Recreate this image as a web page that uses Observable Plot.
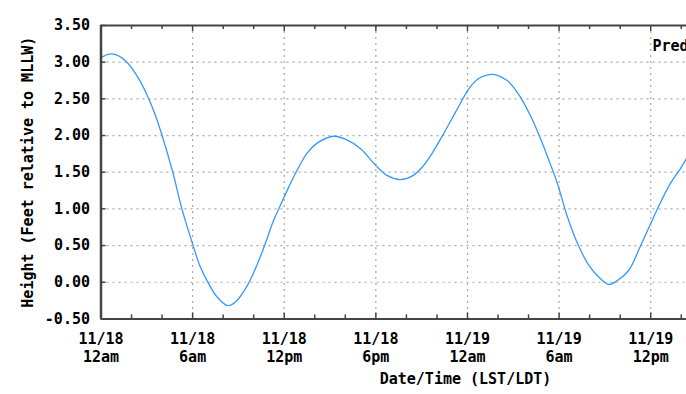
<!DOCTYPE html>
<html>
<head>
<meta charset="utf-8">
<script src="https://cdn.jsdelivr.net/npm/d3@7"></script>
<script src="https://cdn.jsdelivr.net/npm/@observablehq/plot@0.6"></script>
<style>
  html, body { margin: 0; padding: 0; background: #fff; }
  #chart svg { display: block; }
</style>
</head>
<body>
<div id="chart"></div>
<script>
// Hours since 11/18 12am
const hours = [0, 0.5, 1.0, 1.7, 2.4, 3.0, 3.5, 4.0, 4.7, 5.3, 6.0, 6.5, 7.05, 7.6, 8.3, 8.8, 9.6, 10.55, 11.3, 11.75, 12.3, 12.85, 13.5, 14.25, 15.25, 16.0, 17.0, 18.0, 18.7, 19.6, 20.4, 21.0, 21.6, 22.45, 23.3, 24.1, 24.75, 25.4, 25.8, 26.6, 27.35, 28.1, 28.8, 29.3, 29.9, 30.5, 31.2, 31.95, 32.7, 33.25, 33.8, 34.55, 35.3, 36.0, 36.6, 37.3, 37.95, 38.35];
const heights = [3.06, 3.11, 3.10, 3.00, 2.80, 2.56, 2.31, 2.00, 1.50, 1.00, 0.52, 0.21, -0.02, -0.20, -0.32, -0.27, -0.04, 0.41, 0.84, 1.05, 1.30, 1.53, 1.76, 1.91, 1.99, 1.95, 1.82, 1.59, 1.46, 1.40, 1.45, 1.56, 1.73, 2.03, 2.35, 2.64, 2.78, 2.83, 2.83, 2.75, 2.56, 2.28, 1.95, 1.68, 1.34, 0.92, 0.53, 0.23, 0.05, -0.03, 0.02, 0.16, 0.48, 0.80, 1.07, 1.35, 1.55, 1.69];

const xTickHours = [0, 6, 12, 18, 24, 30, 36];
const xTickDates = ["11/18", "11/18", "11/18", "11/18", "11/19", "11/19", "11/19"];
const xTickTimes = ["12am", "6am", "12pm", "6pm", "12am", "6am", "12pm"];
const minorHours = [2, 4, 8, 10, 14, 16, 20, 22, 26, 28, 32, 34, 38];
const yTicks = [-0.5, 0, 0.5, 1, 1.5, 2, 2.5, 3, 3.5];
const yTickLabels = ["-0.50", "0.00", "0.50", "1.00", "1.50", "2.00", "2.50", "3.00", "3.50"];
const yTitle = "Height (Feet relative to MLLW)";
const xTitle = "Date/Time (LST/LDT)";
const legendText = "Predictions";

const data = hours.map((h, i) => ({h, v: heights[i]}));

const W = 686, H = 394;
const mL = 100.5, mR = 0, mT = 25, mB = 75.6;
const plotW = W - mL - mR, plotH = H - mT - mB;
const font = "DejaVu Sans Mono";
const axisColor = "#444";
const gridColor = "#a8a8a8";

const chart = Plot.plot({
  width: W, height: H,
  marginLeft: mL, marginRight: mR, marginTop: mT, marginBottom: mB,
  x: {domain: [0, plotW / 15.27], axis: null},
  y: {domain: [-0.5, 3.5], axis: null},
  style: {fontFamily: font, fontWeight: "bold", fontSize: "15px", background: "#fff", color: "#000", overflow: "hidden"},
  marks: [
    Plot.gridY(yTicks.slice(1, -1), {stroke: gridColor, strokeOpacity: 1, strokeWidth: 1.2, strokeDasharray: "2,4"}),
    Plot.gridX(xTickHours.slice(1), {stroke: gridColor, strokeOpacity: 1, strokeWidth: 1.2, strokeDasharray: "2,4"}),
    Plot.line(data, {x: "h", y: "v", stroke: "#3399ff", strokeWidth: 1.3, curve: "catmull-rom"}),
    // frame lines
    Plot.ruleY([-0.5], {stroke: axisColor, strokeWidth: 2}),
    Plot.ruleY([3.5], {stroke: axisColor, strokeWidth: 2}),
    Plot.ruleX([0], {stroke: axisColor, strokeWidth: 2.5}),
    // bottom ticks
    Plot.tickX(xTickHours, {x: d => d, stroke: axisColor, strokeWidth: 1.5, insetTop: plotH - 6}),
    Plot.tickX(minorHours, {x: d => d, stroke: axisColor, strokeWidth: 1.5, insetTop: plotH - 4}),
    // top ticks
    Plot.tickX(xTickHours, {x: d => d, stroke: axisColor, strokeWidth: 1.5, insetBottom: plotH - 6}),
    Plot.tickX(minorHours, {x: d => d, stroke: axisColor, strokeWidth: 1.5, insetBottom: plotH - 4}),
    // left ticks
    Plot.tickY(yTicks, {y: d => d, stroke: axisColor, strokeWidth: 1.5, insetRight: plotW - 5}),
    // y tick labels
    Plot.text(yTicks, {y: d => d, frameAnchor: "left", dx: -11, textAnchor: "end", text: (d, i) => yTickLabels[i], fill: "#000"}),
    // x tick labels
    Plot.text(xTickHours, {x: d => d, frameAnchor: "bottom", dy: 12, lineAnchor: "top", lineHeight: 1.2, textAnchor: "middle", text: (d, i) => xTickDates[i] + "\n" + xTickTimes[i], fill: "#000"}),
    // axis titles
    Plot.text([yTitle], {frameAnchor: "left", dx: -72.5, rotate: -90, textAnchor: "middle", text: d => d, fill: "#000"}),
    Plot.text([xTitle], {frameAnchor: "bottom", dx: 71.75, dy: 65, textAnchor: "middle", text: d => d, fill: "#000"}),
    // legend (clipped at right edge, as in the reference)
    Plot.text([legendText], {frameAnchor: "top-right", dx: -34, dy: 15, textAnchor: "start", text: d => d, fill: "#000"})
  ]
});
document.getElementById("chart").appendChild(chart);
</script>
</body>
</html>
